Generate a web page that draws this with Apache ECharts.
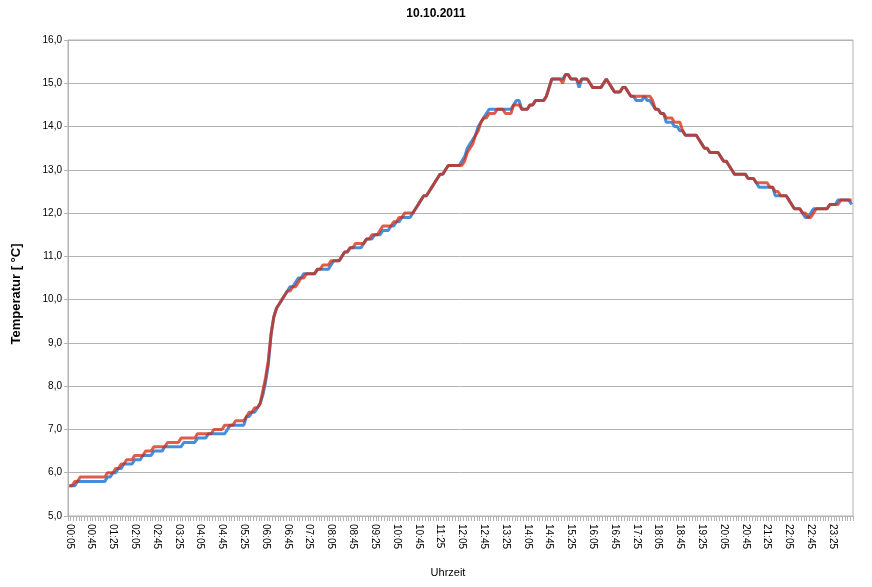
<!DOCTYPE html>
<html><head><meta charset="utf-8">
<script src="https://cdn.jsdelivr.net/npm/echarts@6/dist/echarts.min.js"></script>
<style>html,body{margin:0;padding:0;background:#fff}#c{width:872px;height:587px}</style>
</head><body><div id="c"></div>
<script>
const chartTitle = '10.10.2011';
const yAxisTitle = 'Temperatur [ °C]';
const xAxisTitle = 'Uhrzeit';
const yMin = 5, yMax = 16, yStep = 1;

// time categories every 5 minutes, 00:05 ... 24:00
const categories = [];
for (let m = 5; m <= 1440; m += 5) {
  const h = Math.floor(m / 60), mm = m % 60;
  categories.push(String(h).padStart(2, '0') + ':' + String(mm).padStart(2, '0'));
}

const tempBlue = [
5.7,5.7,5.7,5.8,5.8,5.8,5.8,5.8,
5.8,5.8,5.8,5.8,5.8,5.8,5.9,5.9,
6.0,6.0,6.1,6.1,6.2,6.2,6.2,6.2,
6.3,6.3,6.3,6.4,6.4,6.4,6.4,6.5,
6.5,6.5,6.5,6.6,6.6,6.6,6.6,6.6,
6.6,6.6,6.7,6.7,6.7,6.7,6.7,6.8,
6.8,6.8,6.8,6.9,6.9,6.9,6.9,6.9,
6.9,6.9,7.0,7.1,7.1,7.1,7.1,7.1,
7.1,7.3,7.3,7.4,7.4,7.5,7.6,7.8,
8.1,8.5,9.2,9.6,9.8,9.9,10.0,10.1,
10.2,10.3,10.3,10.4,10.5,10.5,10.6,10.6,
10.6,10.6,10.6,10.7,10.7,10.7,10.7,10.7,
10.8,10.9,10.9,10.9,11.0,11.1,11.1,11.2,
11.2,11.2,11.2,11.2,11.3,11.4,11.4,11.4,
11.5,11.5,11.5,11.6,11.6,11.6,11.7,11.7,
11.8,11.8,11.9,11.9,11.9,11.9,12.0,12.1,
12.2,12.3,12.4,12.4,12.5,12.6,12.7,12.8,
12.9,12.9,13.0,13.1,13.1,13.1,13.1,13.1,
13.2,13.3,13.5,13.6,13.7,13.8,14.0,14.1,
14.2,14.3,14.4,14.4,14.4,14.4,14.4,14.4,
14.4,14.4,14.4,14.5,14.6,14.6,14.4,14.4,
14.4,14.5,14.5,14.6,14.6,14.6,14.6,14.7,
14.9,15.1,15.1,15.1,15.1,15.1,15.2,15.2,
15.1,15.1,15.1,14.9,15.1,15.1,15.1,15.0,
14.9,14.9,14.9,14.9,15.0,15.1,15.0,14.9,
14.8,14.8,14.8,14.9,14.9,14.8,14.7,14.7,
14.6,14.6,14.6,14.7,14.6,14.6,14.5,14.4,
14.4,14.3,14.3,14.1,14.1,14.1,14.0,14.0,
13.9,13.9,13.8,13.8,13.8,13.8,13.8,13.7,
13.6,13.5,13.5,13.4,13.4,13.4,13.4,13.3,
13.2,13.2,13.1,13.0,12.9,12.9,12.9,12.9,
12.9,12.8,12.8,12.8,12.7,12.6,12.6,12.6,
12.6,12.6,12.6,12.4,12.4,12.4,12.4,12.4,
12.3,12.2,12.1,12.1,12.1,12.0,11.9,11.9,
12.0,12.1,12.1,12.1,12.1,12.1,12.1,12.2,
12.2,12.2,12.3,12.3,12.3,12.3,12.3,12.2
];

const tempRed = [
5.7,5.7,5.8,5.8,5.9,5.9,5.9,5.9,
5.9,5.9,5.9,5.9,5.9,5.9,6.0,6.0,
6.0,6.1,6.1,6.2,6.2,6.3,6.3,6.3,
6.4,6.4,6.4,6.4,6.5,6.5,6.5,6.6,
6.6,6.6,6.6,6.6,6.7,6.7,6.7,6.7,
6.7,6.8,6.8,6.8,6.8,6.8,6.8,6.9,
6.9,6.9,6.9,6.9,6.9,7.0,7.0,7.0,
7.0,7.1,7.1,7.1,7.1,7.2,7.2,7.2,
7.2,7.3,7.4,7.4,7.5,7.5,7.6,7.9,
8.2,8.6,9.2,9.6,9.8,9.9,10.0,10.1,
10.2,10.2,10.3,10.3,10.4,10.5,10.5,10.6,
10.6,10.6,10.6,10.7,10.7,10.8,10.8,10.8,
10.9,10.9,10.9,10.9,11.0,11.1,11.1,11.2,
11.2,11.3,11.3,11.3,11.3,11.4,11.4,11.5,
11.5,11.5,11.6,11.7,11.7,11.7,11.7,11.8,
11.8,11.9,11.9,12.0,12.0,12.0,12.0,12.1,
12.2,12.3,12.4,12.4,12.5,12.6,12.7,12.8,
12.9,12.9,13.0,13.1,13.1,13.1,13.1,13.1,
13.1,13.2,13.4,13.5,13.6,13.8,13.9,14.1,
14.2,14.2,14.3,14.3,14.3,14.4,14.4,14.4,
14.3,14.3,14.3,14.5,14.5,14.5,14.4,14.4,
14.4,14.5,14.5,14.6,14.6,14.6,14.6,14.7,
14.9,15.1,15.1,15.1,15.1,15.0,15.2,15.2,
15.1,15.1,15.1,15.0,15.1,15.1,15.1,15.0,
14.9,14.9,14.9,14.9,15.0,15.1,15.0,14.9,
14.8,14.8,14.8,14.9,14.9,14.8,14.7,14.7,
14.7,14.7,14.7,14.7,14.7,14.7,14.6,14.4,
14.4,14.3,14.3,14.2,14.2,14.2,14.1,14.1,
14.1,13.9,13.8,13.8,13.8,13.8,13.8,13.7,
13.6,13.5,13.5,13.4,13.4,13.4,13.4,13.3,
13.2,13.2,13.1,13.0,12.9,12.9,12.9,12.9,
12.9,12.8,12.8,12.8,12.7,12.7,12.7,12.7,
12.7,12.6,12.6,12.5,12.5,12.4,12.4,12.4,
12.3,12.2,12.1,12.1,12.1,12.0,12.0,11.9,
11.9,12.0,12.1,12.1,12.1,12.1,12.1,12.2,
12.2,12.2,12.2,12.3,12.3,12.3,12.3,12.3
];

const FONT = '"Liberation Sans", Arial, sans-serif';
const GRAY = '#b3b3b3';
const chart = echarts.init(document.getElementById('c'), null, {renderer: 'canvas'});
chart.setOption({
  animation: false,
  backgroundColor: '#fff',
  textStyle: {fontFamily: FONT},
  grid: {left: 68, right: 19, top: 40, bottom: 71, show: true, borderColor: GRAY, borderWidth: 1, containLabel: false},
  graphic: [
    {type: 'text', left: 'center', top: 8, style: {text: chartTitle, fontFamily: FONT, fontSize: 12, fontWeight: 'bold', fill: '#000'}},
    {type: 'text', x: 16, y: 294, rotation: Math.PI / 2, style: {text: yAxisTitle, fontFamily: FONT, fontSize: 13, fontWeight: 'bold', fill: '#000', align: 'center', verticalAlign: 'middle'}},
    {type: 'text', x: 448, y: 573, style: {text: xAxisTitle, fontFamily: FONT, fontSize: 11, fill: '#000', align: 'center', verticalAlign: 'middle'}}
  ],
  xAxis: {
    type: 'category',
    data: categories,
    boundaryGap: true,
    axisLine: {lineStyle: {color: GRAY, width: 1}},
    axisTick: {show: true, interval: 0, length: 5, lineStyle: {color: GRAY}},
    axisLabel: {interval: 7, rotate: -90, margin: 8, color: '#000', fontSize: 10, fontFamily: FONT},
    splitLine: {show: false}
  },
  yAxis: {
    type: 'value',
    min: yMin, max: yMax, interval: yStep,
    axisLine: {show: true, lineStyle: {color: GRAY, width: 1}},
    axisTick: {show: true, length: 4, lineStyle: {color: GRAY}},
    axisLabel: {color: '#000', fontSize: 10, fontFamily: FONT, margin: 6, formatter: v => v.toFixed(1).replace('.', ',')},
    splitLine: {show: true, lineStyle: {color: GRAY, width: 1}}
  },
  series: [
    {type: 'line', data: tempBlue, symbol: 'none', lineStyle: {color: 'rgb(70,142,218)', width: 3}, itemStyle: {color: 'rgb(70,142,218)'}},
    {type: 'line', data: tempRed, symbol: 'none', lineStyle: {color: 'rgb(212,40,15)', width: 3, opacity: 0.75}, itemStyle: {color: 'rgb(212,40,15)'}}
  ]
});
</script>
</body></html>
